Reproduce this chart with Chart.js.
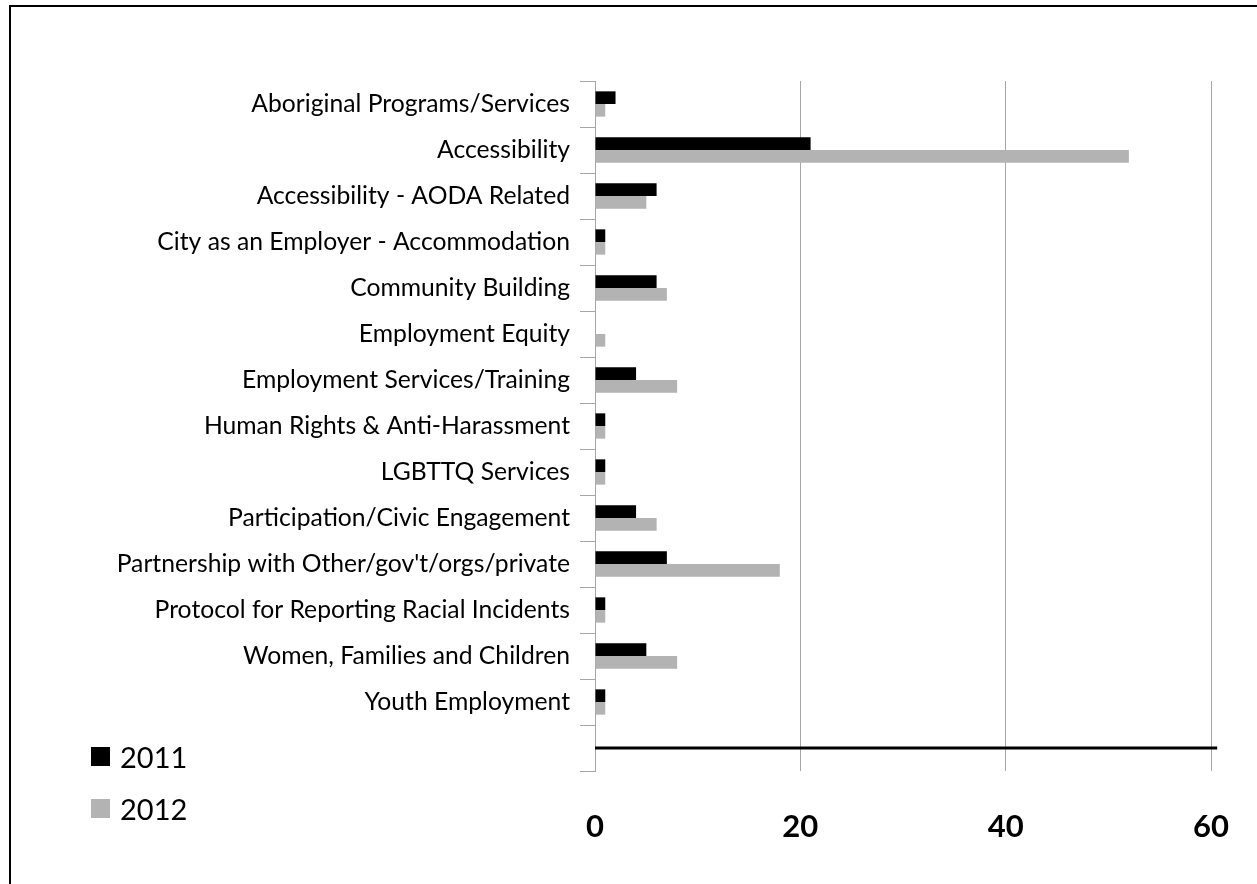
<!DOCTYPE html>
<html>
<head>
<meta charset="utf-8">
<script src="https://cdn.jsdelivr.net/npm/chart.js@4.4.1/dist/chart.umd.min.js"></script>
<style>
    html, body { margin: 0; padding: 0; background: #fff; overflow: hidden; }
    #wrap { position: relative; width: 1257px; height: 884px; }
    #frame { position: absolute; left: 9px; top: 5px; width: 1300px; height: 1000px;
             border: 2px solid #000; box-sizing: border-box; pointer-events: none; }
    #legend { position: absolute; left: 91px; top: 730px; font-family: Lato, sans-serif;
              font-size: 29px; color: #000; }
    #legend .item { height: 52px; display: flex; align-items: center; }
    #legend .box { width: 19px; height: 19px; margin-right: 10px; }
</style>
</head>
<body>
<div id="wrap">
    <canvas id="chart" width="1257" height="884"></canvas>
    <div id="frame"></div>
    <div id="legend"></div>
</div>
<script>
const categories = [
    'Aboriginal Programs/Services',
    'Accessibility',
    'Accessibility - AODA Related',
    'City as an Employer - Accommodation',
    'Community Building',
    'Employment Equity',
    'Employment Services/Training',
    'Human Rights & Anti-Harassment',
    'LGBTTQ Services',
    'Participation/Civic Engagement',
    'Partnership with Other/gov\'t/orgs/private',
    'Protocol for Reporting Racial Incidents',
    'Women, Families and Children',
    'Youth Employment',
    ''
];
const values2011 = [2, 21, 6, 1, 6, 0, 4, 1, 1, 4, 7, 1, 5, 1, null];
const values2012 = [1, 52, 5, 1, 7, 1, 8, 1, 1, 6, 18, 1, 8, 1, null];
const seriesNames = ['2011', '2012'];
const xTicks = [0, 20, 40, 60];
// the heavy rule across the empty last row runs slightly past 60
const ruleRow = 14;
const ruleEnd = 60.6;

const ruleLine = {
    id: 'ruleLine',
    afterDatasetsDraw(chart) {
        const x = chart.scales.x, y = chart.scales.y;
        const ctx = chart.ctx;
        const py = Math.round(y.getPixelForValue(ruleRow));
        ctx.save();
        ctx.strokeStyle = '#000';
        ctx.lineWidth = 3;
        ctx.beginPath();
        ctx.moveTo(x.getPixelForValue(0), py);
        ctx.lineTo(x.getPixelForValue(ruleEnd), py);
        ctx.stroke();
        ctx.restore();
    }
};

const chart = new Chart(document.getElementById('chart'), {
    type: 'bar',
    data: {
        labels: categories,
        datasets: [{
            label: seriesNames[0],
            data: values2011,
            backgroundColor: '#000000',
            barPercentage: 1,
            categoryPercentage: 0.55
        }, {
            label: seriesNames[1],
            data: values2012,
            backgroundColor: '#b3b3b3',
            barPercentage: 1,
            categoryPercentage: 0.55
        }]
    },
    options: {
        indexAxis: 'y',
        responsive: false,
        animation: false,
        layout: {
            padding: { top: 81, right: 46, left: 0, bottom: 0 }
        },
        plugins: {
            legend: { display: false },
            tooltip: { enabled: false }
        },
        scales: {
            x: {
                min: 0,
                max: 60,
                afterBuildTicks: (s) => { s.ticks = xTicks.map(v => ({ value: v })); },
                afterFit: (s) => {
                    s.height = 113;
                    s.paddingLeft = 0;
                    s.paddingRight = 0;
                },
                border: { display: false },
                grid: { color: '#a6a6a6', lineWidth: 1, drawTicks: false },
                ticks: {
                    padding: 37,
                    color: '#000',
                    font: { family: 'Lato', size: 31, weight: 'bold' }
                }
            },
            y: {
                afterFit: (s) => { s.width = 595; },
                border: { display: true, color: '#a6a6a6', width: 1 },
                grid: { drawOnChartArea: false, color: '#a6a6a6', tickLength: 15 },
                ticks: {
                    padding: 10,
                    color: '#000',
                    autoSkip: false,
                    font: { family: 'Lato', size: 24.7 }
                }
            }
        }
    },
    plugins: [ruleLine]
});

// legend outside the plot, bottom left
const legend = document.getElementById('legend');
chart.data.datasets.forEach(ds => {
    const item = document.createElement('div');
    item.className = 'item';
    const box = document.createElement('span');
    box.className = 'box';
    box.style.background = ds.backgroundColor;
    const txt = document.createElement('span');
    txt.textContent = ds.label;
    item.appendChild(box);
    item.appendChild(txt);
    legend.appendChild(item);
});
</script>
</body>
</html>
